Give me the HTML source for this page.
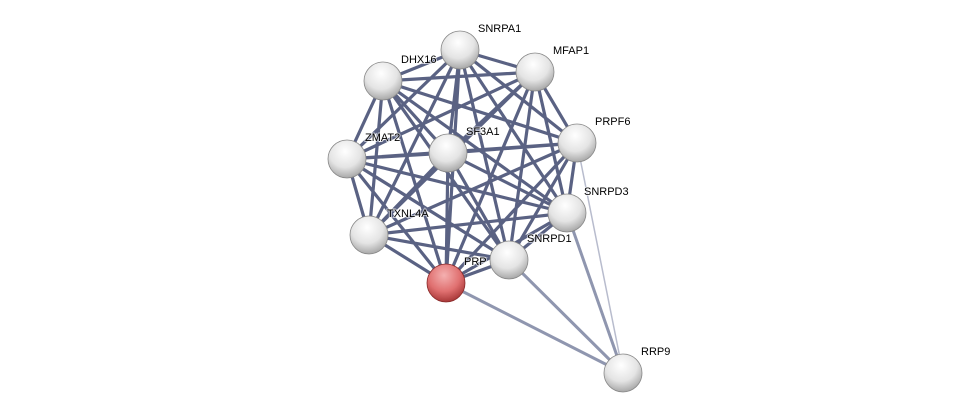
<!DOCTYPE html>
<html><head><style>body{margin:0;background:#fff}svg{display:block}text{font-family:"Liberation Sans",sans-serif;font-size:11px;fill:#000;paint-order:stroke;stroke:#fff;stroke-width:2px;stroke-opacity:0.6}</style></head><body>
<svg width="975" height="419" xmlns="http://www.w3.org/2000/svg">
<defs>
<radialGradient id="g" cx="0.45" cy="0.3" r="0.7"><stop offset="0" stop-color="#fff"/><stop offset="0.6" stop-color="#e4e4e4"/><stop offset="1" stop-color="#a8a8a8"/></radialGradient>
<radialGradient id="r" cx="0.45" cy="0.3" r="0.7"><stop offset="0" stop-color="#f4b0b0"/><stop offset="0.6" stop-color="#e07070"/><stop offset="1" stop-color="#a83838"/></radialGradient>
</defs>
<path fill="none" stroke="#2c3660" stroke-opacity="0.78" stroke-width="3.2" d="
M460,50L535,72 M460,50L383,81 M460,50L577,143 M460,50L448,153 M460,50L347,159 M460,50L567,213 M460,50L369,235 M460,50L509,260 M460,50L446,283
M535,72L383,81 M535,72L577,143 M535,72L448,153 M535,72L347,159 M535,72L567,213 M535,72L369,235 M535,72L509,260 M535,72L446,283
M383,81L577,143 M383,81L448,153 M383,81L347,159 M383,81L567,213 M383,81L369,235 M383,81L509,260 M383,81L446,283
M577,143L448,153 M577,143L347,159 M577,143L567,213 M577,143L369,235 M577,143L509,260 M577,143L446,283
M448,153L347,159 M448,153L567,213 M448,153L369,235 M448,153L509,260 M448,153L446,283
M347,159L567,213 M347,159L369,235 M347,159L509,260 M347,159L446,283
M567,213L369,235 M567,213L509,260 M567,213L446,283
M369,235L509,260 M369,235L446,283
M509,260L446,283"/>
<path fill="none" stroke="#6a7394" stroke-opacity="0.75" stroke-width="3" d="M623,373L446,283 M623,373L509,260 M623,373L567,213"/>
<path fill="none" stroke="#9aa0b8" stroke-opacity="0.7" stroke-width="1.5" d="M623,373L577,143"/>
<g stroke="#888" stroke-width="0.8" fill="url(#g)">
<circle cx="460" cy="50" r="19"/><circle cx="535" cy="72" r="19"/><circle cx="383" cy="81" r="19"/><circle cx="577" cy="143" r="19"/><circle cx="448" cy="153" r="19"/><circle cx="347" cy="159" r="19"/><circle cx="567" cy="213" r="19"/><circle cx="369" cy="235" r="19"/><circle cx="509" cy="260" r="19"/><circle cx="623" cy="373" r="19"/>
<circle cx="446" cy="283" r="19" fill="url(#r)" stroke="#8a2a2a"/>
</g>
<text x="478" y="32">SNRPA1</text><text x="553" y="54">MFAP1</text><text x="401" y="63">DHX16</text><text x="595" y="125">PRPF6</text><text x="466" y="135">SF3A1</text><text x="365" y="141">ZMAT2</text><text x="584" y="195">SNRPD3</text><text x="387" y="217">TXNL4A</text><text x="527" y="242">SNRPD1</text><text x="464" y="265">PRP</text><text x="641" y="355">RRP9</text>
</svg></body></html>
